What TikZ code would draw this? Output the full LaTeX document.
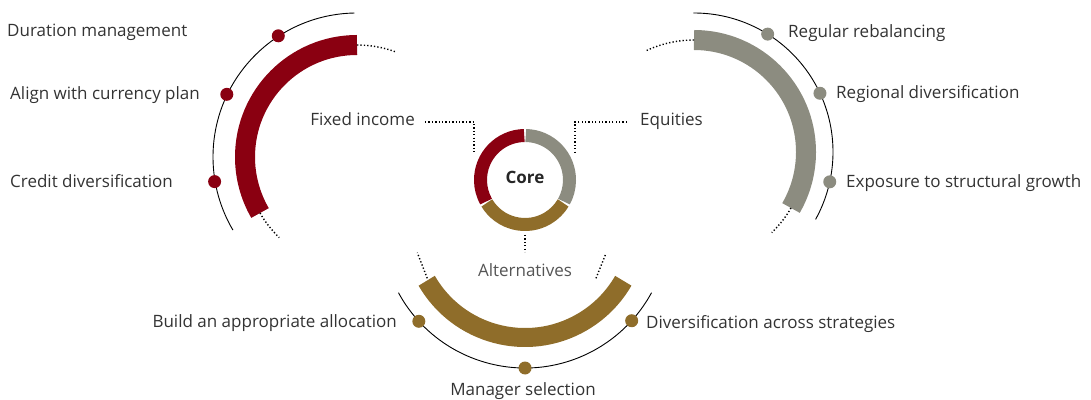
\documentclass[tikz,border=0pt]{standalone}
\usepackage{fontspec}
\setmainfont{Open Sans}
\usetikzlibrary{calc}
\definecolor{cred}{HTML}{8A0011}
\definecolor{cgray}{HTML}{8C8C80}
\definecolor{cbrown}{HTML}{8F6D2A}
\definecolor{ctext}{HTML}{333333}
\definecolor{calt}{HTML}{555555}
\begin{document}
\begin{tikzpicture}[x=1pt,y=1pt,
  lbl/.style={font=\fontsize{17}{20}\selectfont, text=ctext, inner sep=0pt},
  thinarc/.style={line width=0.9pt, black},
  dotline/.style={line width=1.4pt, dash pattern=on 1.3pt off 2.1pt, black},
  bigdot/.style={circle, fill=#1, minimum size=13pt, inner sep=0pt}]
\useasboundingbox (0,0) rectangle (1091,399);
% centres
\coordinate (cc) at (525,219);
\coordinate (rc) at (357,242);
\coordinate (gc) at (694,247);
\coordinate (bc) at (525,175);
% core ring
\draw[cred, line width=13pt] ($(cc)+(91:44.5)$) arc[start angle=91, end angle=209, radius=44.5];
\draw[cgray, line width=13pt] ($(cc)+(89:44.5)$) arc[start angle=89, end angle=-29, radius=44.5];
\draw[cbrown, line width=13pt] ($(cc)+(211:44.5)$) arc[start angle=211, end angle=329, radius=44.5];
\node[font=\bfseries\fontsize{17}{20}\selectfont, text=black!85, inner sep=0pt, anchor=base] (core) at (525,215) {Core};
% red arc
\draw[cred, line width=20pt] ($(rc)+(90:112)$) arc[start angle=90, end angle=210, radius=112];
\draw[dotline] ($(rc)+(90:112)$) arc[start angle=90, end angle=70, radius=112];
\draw[dotline] ($(rc)+(210:112)$) arc[start angle=210, end angle=226, radius=112];
\draw[thinarc] ($(rc)+(91:144)$) arc[start angle=91, end angle=210.5, radius=144];
\node[bigdot=cred] (r1) at ($(rc)+(123:144.5)$) {};
\node[bigdot=cred] (r2) at ($(rc)+(154.3:144.5)$) {};
\node[bigdot=cred] (r3) at ($(rc)+(189.8:144.5)$) {};
\node[lbl, anchor=base west] (t1) at (7,362) {Duration management};
\node[lbl, anchor=base west] (t2) at (10,299) {Align with currency plan};
\node[lbl, anchor=base west] (t3) at (10,211) {Credit diversification};
% gray arc
\draw[cgray, line width=20pt] ($(gc)+(90:112)$) arc[start angle=90, end angle=-30, radius=112];
\draw[dotline] ($(gc)+(90:112)$) arc[start angle=90, end angle=115, radius=112];
\draw[dotline] ($(gc)+(-30:112)$) arc[start angle=-30, end angle=-46, radius=112];
\draw[thinarc] ($(gc)+(90.3:139)$) arc[start angle=90.3, end angle=-29, radius=139];
\node[bigdot=cgray] (g1) at ($(gc)+(58:139)$) {};
\node[bigdot=cgray] (g2) at ($(gc)+(25:139)$) {};
\node[bigdot=cgray] (g3) at ($(gc)+(-12.4:139)$) {};
\node[lbl, anchor=base west] (t4) at (788,361) {Regular rebalancing};
\node[lbl, anchor=base west] (t5) at (836,300) {Regional diversification};
\node[lbl, anchor=base west] (t6) at (846,211) {Exposure to structural growth};
% brown arc
\draw[cbrown, line width=19pt] ($(bc)+(210:113.5)$) arc[start angle=210, end angle=330, radius=113.5];
\coordinate (bl1) at (417.3,146.3); \coordinate (bl2) at (427.3,120.7);
\coordinate (br1) at (606,145.7); \coordinate (br2) at (596,120.7);
\draw[dotline] (bl2) -- (bl1);
\draw[dotline] (br2) -- (br1);
\draw[thinarc] ($(bc)+(208.5:144)$) arc[start angle=208.5, end angle=331.5, radius=144];
\node[bigdot=cbrown] (b1) at ($(bc)+(222.5:144)$) {};
\node[bigdot=cbrown] (b2) at ($(bc)+(270:144)$) {};
\node[bigdot=cbrown] (b3) at ($(bc)+(317.8:144)$) {};
\node[lbl, anchor=base east] (t7) at (397,72) {Build an appropriate allocation};
\node[lbl, anchor=base west] (t8) at (646,71) {Diversification across strategies};
\node[lbl, anchor=base] (t9) at (523,4) {Manager selection};
% category labels and leaders
\node[lbl, anchor=base east] (fi) at (415,273) {Fixed income};
\node[lbl, anchor=base west] (eq) at (640,273) {Equities};
\node[lbl, anchor=base, text=calt] (alt) at (525,123) {Alternatives};
\coordinate (fi0) at (425,277); \coordinate (fi1) at (474,277); \coordinate (fi2) at (474,246);
\coordinate (eq0) at (627,277); \coordinate (eq1) at (575,277); \coordinate (eq2) at (575,246);
\coordinate (al0) at (525,164); \coordinate (al1) at (525,147);
\draw[dotline] (fi0) -- (fi1) -- (fi2);
\draw[dotline] (eq0) -- (eq1) -- (eq2);
\draw[dotline] (al0) -- (al1);
\end{tikzpicture}
\end{document}
